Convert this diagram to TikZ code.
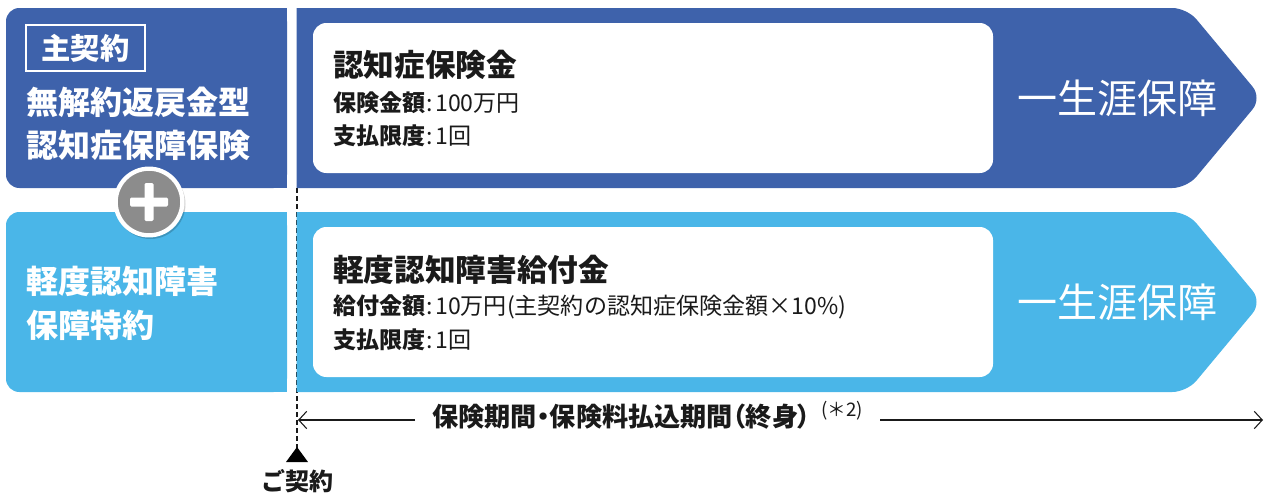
\documentclass[tikz,border=0pt]{standalone}
\usepackage{fontspec}
\setmainfont{Noto Sans CJK JP}
\newfontfamily\paltfont[RawFeature=+palt]{Noto Sans CJK JP}
\usetikzlibrary{arrows.meta}
\definecolor{dblue}{HTML}{3E62AB}
\definecolor{lblue}{HTML}{4AB6E8}
\definecolor{pgray}{HTML}{8C8C8C}
\definecolor{txt}{HTML}{1A1A1A}
\begin{document}
\begin{tikzpicture}[x=0.75pt,y=-0.75pt,
  lefttxt/.style={anchor=west,inner sep=0pt,text=white,font=\fontsize{24}{26}\selectfont\bfseries},
  lifetxt/.style={inner sep=0pt,text=white,font=\fontsize{30}{32}\selectfont},
  titletxt/.style={anchor=west,inner sep=0pt,text=txt,font=\fontsize{23}{25}\selectfont\bfseries},
  subtxt/.style={anchor=west,inner sep=0pt,text=txt,font=\fontsize{17.3}{19}\selectfont},
  whitebox/.style={fill=white,rounded corners=10pt},
  arr/.style={line width=0.8pt,-{Straight Barb[length=6pt,width=13pt]}}
]
\useasboundingbox (0,0) rectangle (1270,493);
% dashed contract line
\coordinate (dtop) at (297,188);
\coordinate (dbot) at (297,448);
\draw[line width=1.2pt,dash pattern=on 3.5pt off 2.5pt,txt] (dtop) -- (dbot);
% right bands (chevrons)
\begin{scope}
\clip (296.5,0) rectangle (1270,493);
\fill[dblue,rounded corners=11pt] (260,8) -- (1187,8) -- (1262,98) -- (1187,188) -- (260,188) -- cycle;
\fill[lblue,rounded corners=11pt] (260,212) -- (1187,212) -- (1262,302) -- (1187,392) -- (260,392) -- cycle;
\end{scope}
% left boxes
\fill[dblue,rounded corners=10pt] (6,8) rectangle (287,188);
\fill[dblue] (250,8) rectangle (287,188);
\fill[lblue,rounded corners=10pt] (6,212) rectangle (287,392);
\fill[lblue] (250,212) rectangle (287,392);
% main contract label
\node[draw=white,line width=1.6pt,minimum width=89pt,minimum height=35pt,inner sep=0pt,text=white,font=\fontsize{22}{24}\selectfont\bfseries] (shu) at (85.5,48) {主契約};
\node[lefttxt] (m1) at (26,102) {無解約返戻金型};
\node[lefttxt] (m2) at (26,145) {認知症保障保険};
\node[lefttxt] (r1) at (26,281) {軽度認知障害};
\node[lefttxt] (r2) at (26,325) {保障特約};
% plus sign
\fill[black,opacity=0.18] (150.5,204) circle (35);
\node[circle,fill=pgray,draw=white,line width=3.2pt,minimum size=50pt,inner sep=0pt] (plus) at (149,202) {};
\fill[white,rounded corners=1pt] (130,197.5) rectangle (168,206.5);
\fill[white,rounded corners=1pt] (144.5,183) rectangle (153.5,221);
% white inner boxes
\fill[whitebox] (313,23) rectangle (993,173);
\fill[whitebox] (313,227) rectangle (993,377);
\node[titletxt] (t1) at (333,65) {認知症保険金};
\node[subtxt] (s1a) at (333,103) {{\bfseries 保険金額}\kern1pt:\kern1.5pt 100万円};
\node[subtxt] (s1b) at (333,136) {{\bfseries 支払限度}\kern1pt:\kern1.5pt 1回};
\node[titletxt] (t2) at (333,270) {軽度認知障害給付金};
\node[subtxt] (s2a) at (333,307) {{\bfseries 給付金額}\kern1pt:\kern1.5pt 10万円(主契約の認知症保険金額×10\%)};
\node[subtxt] (s2b) at (333,340) {{\bfseries 支払限度}\kern1pt:\kern1.5pt 1回};
% lifetime labels
\node[lifetxt] (l1) at (1117,98) {一生涯保障};
\node[lifetxt] (l2) at (1117,302) {一生涯保障};
% period arrow
\coordinate (pl) at (298,420);
\coordinate (pr) at (1263,420);
\coordinate (la) at (415,420);
\coordinate (ra) at (880,420);
\node[anchor=west,inner sep=0pt,text=txt,font=\paltfont\fontsize{19.6}{21}\selectfont\bfseries] (period) at (432,417) {保険期間・保険料払込期間（終身）};
\node[anchor=west,inner sep=0pt,text=txt,font=\fontsize{14}{16}\selectfont] (note) at (821,411) {(＊2)};
\draw[arr,txt] (la) -- (pl);
\draw[arr,txt] (ra) -- (pr);
% contract marker
\fill[black] (286,462) -- (297,447) -- (308,462) -- cycle;
\node[inner sep=0pt,text=txt,font=\fontsize{18}{20}\selectfont\bfseries] (keiyaku) at (297,481) {ご契約};
\end{tikzpicture}
\end{document}
